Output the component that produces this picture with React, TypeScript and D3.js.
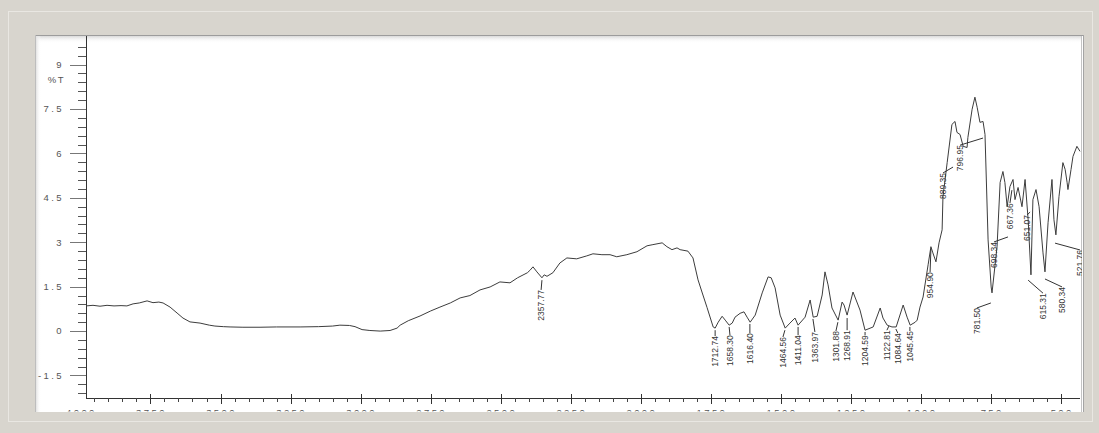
import React from "react";
import * as d3 from "d3";

// IR spectrum: wavenumber (cm-1) and %T
const wavenumbers = [
  3980, 3955, 3930, 3905, 3880, 3855, 3834, 3812, 3790, 3762, 3741, 3720, 3705, 3680, 3655, 3634, 3609, 3573,
  3540, 3520, 3490, 3466, 3420, 3359, 3300, 3216, 3150, 3100, 3074, 3040, 3020, 2995, 2967, 2930, 2895, 2870,
  2859, 2830, 2788, 2750, 2717, 2680, 2645, 2610, 2574, 2538, 2503, 2467, 2440, 2405, 2396, 2385, 2371, 2353,
  2345, 2335, 2314, 2289, 2264, 2229, 2193, 2171, 2139, 2110, 2086, 2050, 2014, 1978, 1957, 1924, 1907, 1889,
  1871, 1860, 1832, 1814, 1796, 1782, 1764, 1742, 1735, 1724, 1710, 1699, 1685, 1674, 1664, 1646, 1632, 1621,
  1610, 1592, 1567, 1546, 1535, 1521, 1503, 1485, 1468, 1450, 1439, 1414, 1396, 1385, 1371, 1353, 1343, 1332,
  1318, 1296, 1282, 1275, 1264, 1253, 1243, 1218, 1200, 1171, 1146, 1136, 1121, 1104, 1089, 1064, 1050, 1039,
  1021, 1014, 1004, 993, 975, 965, 958, 947, 936, 925, 922, 907, 890, 879, 872, 861, 850, 836, 833, 818, 808,
  800, 790, 779, 772, 761, 750, 747, 729, 718, 708, 701, 693, 683, 672, 665, 654, 640, 629, 618, 608, 601, 590,
  579, 565, 558, 547, 533, 526, 519, 508, 494, 486, 479, 476, 465, 458, 444, 433,
];
const transmittance = [
  0.85, 0.87, 0.84, 0.87, 0.85, 0.86, 0.85, 0.92, 0.95, 1.02, 0.96, 0.98, 0.95, 0.81, 0.61, 0.44, 0.31, 0.27,
  0.2, 0.17, 0.15, 0.14, 0.13, 0.13, 0.14, 0.14, 0.15, 0.17, 0.2, 0.19, 0.15, 0.05, 0.02, 0.0, 0.02, 0.1,
  0.2, 0.35, 0.51, 0.68, 0.81, 0.95, 1.12, 1.2, 1.39, 1.49, 1.66, 1.63, 1.8, 1.97, 2.05, 2.17, 2.0, 1.8,
  1.9, 1.85, 1.97, 2.3, 2.47, 2.44, 2.54, 2.61, 2.58, 2.58, 2.51, 2.58, 2.68, 2.88, 2.92, 2.98, 2.85, 2.75,
  2.81, 2.75, 2.7, 2.47, 1.73, 1.32, 0.8, 0.14, 0.1, 0.3, 0.5, 0.37, 0.2, 0.27, 0.47, 0.6, 0.65, 0.47,
  0.3, 0.54, 1.29, 1.83, 1.8, 1.46, 0.54, 0.1, 0.27, 0.44, 0.2, 0.47, 1.05, 0.47, 0.5, 1.22, 2.0, 1.56,
  0.78, 0.37, 0.98, 0.88, 0.54, 0.95, 1.32, 0.71, 0.03, 0.14, 0.78, 0.44, 0.2, 0.14, 0.14, 0.88, 0.47, 0.2,
  0.3, 0.37, 0.81, 1.15, 2.24, 2.85, 2.64, 2.34, 2.98, 3.42, 4.54, 5.69, 6.98, 7.08, 6.71, 6.64, 6.24, 6.2, 6.54, 7.49, 7.9,
  7.56, 7.05, 7.08, 6.64, 3.08, 1.49, 1.29, 2.85, 5.02, 5.39, 5.02, 4.2, 4.88, 5.12, 4.44, 4.85, 4.2, 5.12, 3.76, 1.9, 4.44, 4.78,
  4.2, 2.64, 2.0, 3.66, 5.12, 3.76, 3.25, 4.54, 5.69, 5.46, 5.02, 4.78, 5.46, 5.9, 6.24, 6.07,
];

const xTickValues = [4000, 3750, 3500, 3250, 3000, 2750, 2500, 2250, 2000, 1750, 1500, 1250, 1000, 750, 500];
const yTickValues = [9, 7.5, 6, 4.5, 3, 1.5, 0, -1.5];
const yTickLabels = ["9", "7.5", "6", "4.5", "3", "1.5", "0", "-1.5"];
const yAxisTitle = "%T";

// peak annotations: text, leader start (wn, %T), label top (wn, %T)
const peakLabels = [
  "2357.77", "1712.74", "1658.30", "1616.40", "1464.56", "1411.04", "1363.97", "1301.88", "1268.91",
  "1204.59", "1122.81", "1084.64", "1045.45", "954.90", "889.35", "796.95", "781.50", "698.34",
  "667.36", "651.07", "615.31", "580.34", "521.76",
];
const peakTipWn = [2353, 1735, 1685, 1611, 1486, 1439, 1386, 1297, 1264, 1200, 1115, 1090, 1040, 965, 886, 779, 751, 690, 676, 611, 618, 558, 522];
const peakTipT = [1.72, 0.03, 0.14, 0.24, 0.03, 0.14, 0.41, 0.3, 0.44, -0.03, 0.17, 0.07, 0.14, 2.77, 5.54, 6.52, 0.95, 3.18, 4.76, 4.02, 1.72, 1.76, 2.97];
const peakLabelWn = [2356, 1735, 1682, 1611, 1493, 1439, 1379, 1304, 1264, 1200, 1122, 1083, 1040, 968, 922, 861, 801, 740, 683, 622, 565, 497, 433];
const peakLabelT = [1.39, -0.17, -0.14, -0.07, -0.2, -0.14, -0.03, 0.0, 0.03, -0.14, 0.03, -0.07, 0.0, 1.99, 5.34, 6.28, 0.78, 3.01, 4.32, 3.92, 1.28, 1.49, 2.74];

const FONT = "'Liberation Sans', Arial, Helvetica, sans-serif";

export default function App() {
  const W = 1099;
  const H = 433;
  const x = d3.scaleLinear().domain([3980, 433]).range([86, 1080]);
  const y = d3.scaleLinear().domain([-2.26, 10]).range([398, 35]);

  const data = wavenumbers.map((w, i) => [w, transmittance[i]] as [number, number]);
  const line = d3
    .line<[number, number]>()
    .x((d) => x(d[0]))
    .y((d) => y(d[1]))
    .curve(d3.curveLinear);

  const minorY = d3
    .range(-7, 33)
    .filter((k) => k % 5 !== 0)
    .map((k) => k * 0.3);

  const [xMax, xMin] = x.domain();
  const minorX = d3.range(500, 4000, 50).filter((v) => v % 250 !== 0 && v <= xMax && v >= xMin);
  const majorXTicks = xTickValues.filter((v) => v <= xMax && v >= xMin);

  return (
    <svg
      width={W}
      height={H}
      style={{ position: "absolute", left: 0, top: 0, display: "block" }}
      fontFamily={FONT}
    >
      <defs>
        <linearGradient id="topShade" x1="0" y1="0" x2="0" y2="1">
          <stop offset="0" stopColor="#d9d9d9" />
          <stop offset="1" stopColor="#ffffff" stopOpacity="0" />
        </linearGradient>
        <linearGradient id="leftShade" x1="0" y1="0" x2="1" y2="0">
          <stop offset="0" stopColor="#e2e2e2" />
          <stop offset="1" stopColor="#ffffff" stopOpacity="0" />
        </linearGradient>
        <clipPath id="panelClip">
          <rect x={36} y={36} width={1046} height={375.5} />
        </clipPath>
      </defs>

      {/* window background */}
      <rect x={0} y={0} width={W} height={H} fill="#d8d5ce" />
      <rect x={8.5} y={11.5} width={1084} height={410} fill="none" stroke="#e9e7e2" />

      {/* white panel */}
      <rect x={35} y={35} width={1048} height={377} fill="#ffffff" />
      <rect x={36} y={36} width={1046} height={7} fill="url(#topShade)" />
      <rect x={36} y={36} width={5} height={376} fill="url(#leftShade)" />
      <line x1={35} x2={1083} y1={35.5} y2={35.5} stroke="#9c9c9c" />
      <line x1={35.5} x2={35.5} y1={35} y2={412} stroke="#bdbdbd" />
      <line x1={1081.5} x2={1081.5} y1={36} y2={412} stroke="#c4c4c4" />
      <line x1={1083.5} x2={1083.5} y1={35} y2={412} stroke="#a4a4a4" />

      <g clipPath="url(#panelClip)">
        {/* y axis */}
        <line x1={86.5} x2={86.5} y1={y(10)} y2={398} stroke="#333" />
        <line x1={79} x2={86.5} y1={y(10) + 0.5} y2={y(10) + 0.5} stroke="#333" />
        {minorY.map((v) => (
          <line key={"my" + v} x1={78} x2={86} y1={Math.round(y(v)) + 0.5} y2={Math.round(y(v)) + 0.5} stroke="#555" />
        ))}
        {yTickValues.map((v, i) => (
          <g key={"y" + v}>
            <line x1={70} x2={86} y1={Math.round(y(v)) + 0.5} y2={Math.round(y(v)) + 0.5} stroke="#777" />
            <text
              x={64}
              y={y(v)}
              dy="0.35em"
              textAnchor="end"
              fontSize={9.5}
              letterSpacing={2.4}
              fill="#555"
            >
              {yTickLabels[i]}
            </text>
          </g>
        ))}
        <text x={65} y={y(8.5)} dy="0.35em" textAnchor="end" fontSize={9.5} letterSpacing={1.5} fill="#555">
          {yAxisTitle}
        </text>

        {/* x axis */}
        <line x1={86} x2={x(xMin)} y1={398.5} y2={398.5} stroke="#333" />
        {minorX.map((v) => (
          <line key={"mx" + v} x1={Math.round(x(v)) + 0.5} x2={Math.round(x(v)) + 0.5} y1={398} y2={402} stroke="#444" />
        ))}
        {majorXTicks.map((v) => (
          <line key={"Mx" + v} x1={Math.round(x(v)) + 0.5} x2={Math.round(x(v)) + 0.5} y1={394} y2={404} stroke="#333" />
        ))}
        {xTickValues.map((v) => (
          <text key={"xl" + v} x={x(v) + 1} y={416} textAnchor="middle" fontSize={9.5} letterSpacing={2.4} fill="#555">
            {v}
          </text>
        ))}

        {/* spectrum */}
        <path d={line(data) || ""} fill="none" stroke="#3c3c3c" strokeWidth={1} />

        {/* peak annotations */}
        {peakLabels.map((t, i) => {
          const lx = x(peakLabelWn[i]);
          const ly = y(peakLabelT[i]);
          return (
            <g key={"pk" + i}>
              <line x1={x(peakTipWn[i])} y1={y(peakTipT[i])} x2={lx} y2={ly} stroke="#333" strokeWidth={1} />
              <text
                transform={`translate(${lx},${ly}) rotate(-90)`}
                textAnchor="end"
                dy="0.35em"
                fontSize={8.5}
                fill="#333"
              >
                {t}
              </text>
            </g>
          );
        })}
      </g>
    </svg>
  );
}
